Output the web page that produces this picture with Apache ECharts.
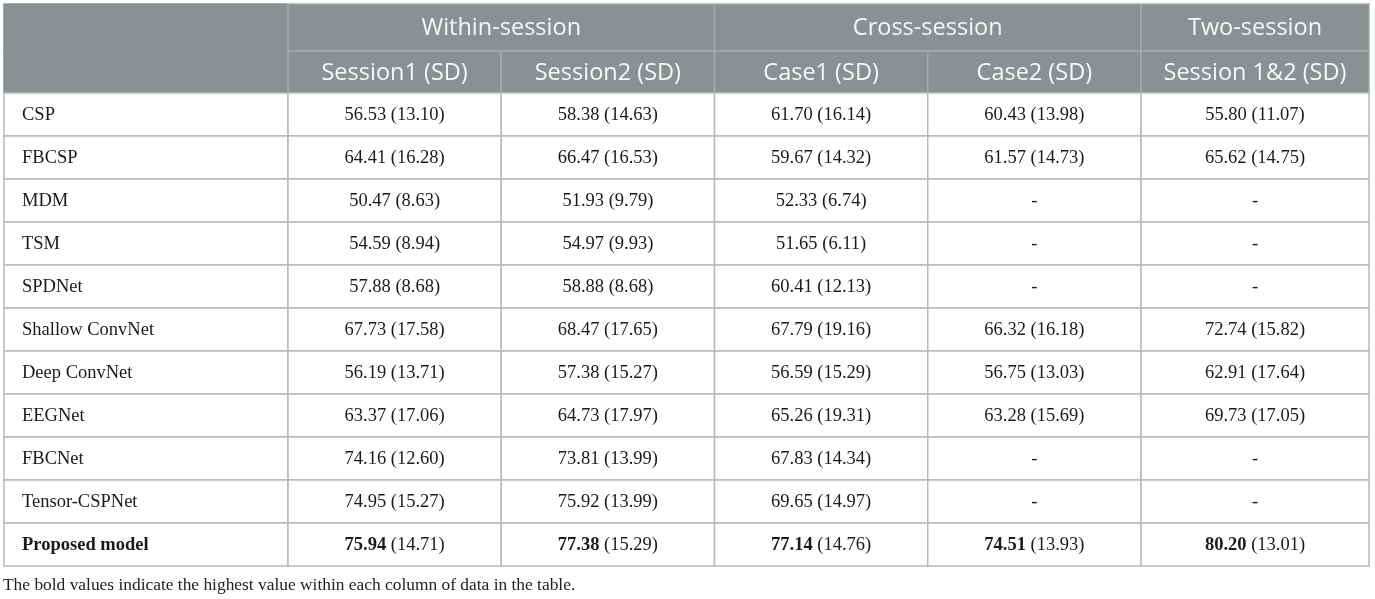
<!DOCTYPE html>
<html><head><meta charset="utf-8">
<script src="https://cdn.jsdelivr.net/npm/echarts@6/dist/echarts.min.js"></script>
<style>html,body{margin:0;padding:0;background:#fff}#c{width:1375px;height:599px}</style>
</head><body><div id="c"></div>
<script>
// ---- data ----
const groupHeaders = ['Within-session', 'Cross-session', 'Two-session'];
const columnHeaders = ['Session1 (SD)', 'Session2 (SD)', 'Case1 (SD)', 'Case2 (SD)', 'Session 1&2 (SD)'];
const methods = ['CSP', 'FBCSP', 'MDM', 'TSM', 'SPDNet', 'Shallow ConvNet', 'Deep ConvNet', 'EEGNet', 'FBCNet', 'Tensor-CSPNet', 'Proposed model'];
const session1Mean = [56.53, 64.41, 50.47, 54.59, 57.88, 67.73, 56.19, 63.37, 74.16, 74.95, 75.94];
const session1SD   = [13.10, 16.28, 8.63, 8.94, 8.68, 17.58, 13.71, 17.06, 12.60, 15.27, 14.71];
const session2Mean = [58.38, 66.47, 51.93, 54.97, 58.88, 68.47, 57.38, 64.73, 73.81, 75.92, 77.38];
const session2SD   = [14.63, 16.53, 9.79, 9.93, 8.68, 17.65, 15.27, 17.97, 13.99, 13.99, 15.29];
const case1Mean    = [61.70, 59.67, 52.33, 51.65, 60.41, 67.79, 56.59, 65.26, 67.83, 69.65, 77.14];
const case1SD      = [16.14, 14.32, 6.74, 6.11, 12.13, 19.16, 15.29, 19.31, 14.34, 14.97, 14.76];
const case2Mean    = [60.43, 61.57, null, null, null, 66.32, 56.75, 63.28, null, null, 74.51];
const case2SD      = [13.98, 14.73, null, null, null, 16.18, 13.03, 15.69, null, null, 13.93];
const twoSessionMean = [55.80, 65.62, null, null, null, 72.74, 62.91, 69.73, null, null, 80.20];
const twoSessionSD   = [11.07, 14.75, null, null, null, 15.82, 17.64, 17.05, null, null, 13.01];
const boldMethod = 'Proposed model';
const footnote = 'The bold values indicate the highest value within each column of data in the table.';

// ---- styles ----
const HEAD_BG = '#8b9092';
const HEAD_LINE = '#a7abac';
const BODY_LINE = '#b7babb';
const HEAD_FONT = 'Open Sans';
const BODY_FONT = 'Liberation Serif';
const TEXT = '#1a1a1a';

const means = [session1Mean, session2Mean, case1Mean, case2Mean, twoSessionMean];
const sds = [session1SD, session2SD, case1SD, case2SD, twoSessionSD];
const colMax = means.map(arr => Math.max(...arr.filter(v => v != null)));

function cellRect(api, c0, c1, r0, r1) {
  const a = api.coord([c0, r0]), b = api.coord([c1, r1]);
  const s = api.size([1, 1]);
  return { x: a[0] - s[0] / 2, y: a[1] - s[1] / 2, width: b[0] - a[0] + s[0], height: b[1] - a[1] + s[1] };
}

// header items: grids 0-2 are group-header row, grids 3-5 column-header row
const headA = [{ c0: 0, text: '' }];
const headB = [
  { c0: 0, c1: 1, text: groupHeaders[0] },
  { c0: 2, c1: 3, text: groupHeaders[1] }
];
const headC = [{ c0: 0, c1: 0, text: groupHeaders[2] }];
const subA = [{ c0: 0, c1: 0, text: '' }];
const subB = columnHeaders.slice(0, 4).map((t, i) => ({ c0: i, c1: i, text: t }));
const subC = [{ c0: 0, c1: 0, text: columnHeaders[4] }];

function headSeries(items, idx, noStroke) {
  return {
    type: 'custom', xAxisIndex: idx, yAxisIndex: idx, silent: true,
    encode: { x: [0, 1], y: 2 },
    data: items.map(it => [it.c0, it.c1 == null ? it.c0 : it.c1, 0]),
    renderItem: function (params, api) {
      const it = items[params.dataIndex];
      const r = cellRect(api, api.value(0), api.value(1), 0, 0);
      return {
        type: 'group', children: [
          { type: 'rect', shape: r, style: { fill: HEAD_BG, stroke: noStroke ? HEAD_BG : HEAD_LINE, lineWidth: 1.5 } },
          { type: 'text', style: { text: it.text, x: r.x + r.width / 2, y: r.y + r.height / 2 + 1, align: 'center', verticalAlign: 'middle', fontFamily: HEAD_FONT, fontSize: 23.5, fill: '#f7f7f7' } }
        ]
      };
    }
  };
}

function fmtCell(col, row) {
  const m = means[col][row], s = sds[col][row];
  if (m == null) return '-';
  const ms = m.toFixed(2), ss = '(' + s.toFixed(2) + ')';
  return m === colMax[col] ? '{b|' + ms + '} ' + ss : ms + ' ' + ss;
}

const FS = 18.5;
function bodySeries(colStart, nCols, idx) {
  const data = [];
  for (let c = 0; c < nCols; c++) for (let r = 0; r < methods.length; r++) data.push([c, r]);
  return {
    type: 'custom', xAxisIndex: idx, yAxisIndex: idx, silent: true,
    encode: { x: 0, y: 1 },
    data: data,
    renderItem: function (params, api) {
      const c = api.value(0), r = api.value(1);
      const rc = cellRect(api, c, c, r, r);
      return {
        type: 'group', children: [
          { type: 'rect', shape: rc, style: { fill: '#fff', stroke: BODY_LINE, lineWidth: 1.5 } },
          { type: 'text', style: { text: fmtCell(colStart + c, r), x: rc.x + rc.width / 2, y: rc.y + rc.height / 2 + 1, align: 'center', verticalAlign: 'middle', fontFamily: BODY_FONT, fontSize: FS, fill: TEXT,
            rich: { b: { fontFamily: BODY_FONT, fontSize: FS, fontWeight: 'bold', fill: TEXT } } } }
        ]
      };
    }
  };
}

const labelSeries = {
  type: 'custom', xAxisIndex: 6, yAxisIndex: 6, silent: true,
  encode: { x: 0, y: 1 },
  data: methods.map((m, i) => [0, i]),
  renderItem: function (params, api) {
    const r = api.value(1);
    const rc = cellRect(api, 0, 0, r, r);
    const name = methods[params.dataIndex];
    return {
      type: 'group', children: [
        { type: 'rect', shape: rc, style: { fill: '#fff', stroke: BODY_LINE, lineWidth: 1.5 } },
        { type: 'text', style: { text: name, x: rc.x + 18, y: rc.y + rc.height / 2 + 1, align: 'left', verticalAlign: 'middle', fontFamily: BODY_FONT, fontSize: FS, fontWeight: name === boldMethod ? 'bold' : 'normal', fill: TEXT } }
      ]
    };
  }
};

const gridDefs = [
  { left: 4, top: 4, width: 284, height: 47 },
  { left: 288, top: 4, width: 853, height: 47 },
  { left: 1141, top: 4, width: 228, height: 47 },
  { left: 4, top: 51, width: 284, height: 42 },
  { left: 288, top: 51, width: 853, height: 42 },
  { left: 1141, top: 51, width: 228, height: 42 },
  { left: 4, top: 93, width: 284, height: 473 },
  { left: 288, top: 93, width: 853, height: 473 },
  { left: 1141, top: 93, width: 228, height: 473 }
];
const zoneCats = [['label'], columnHeaders.slice(0, 4), columnHeaders.slice(4)];
const xCats = [0, 1, 2, 0, 1, 2, 0, 1, 2].map(z => zoneCats[z]);
const yCats = [['group'], ['group'], ['group'], ['column'], ['column'], ['column'], methods, methods, methods];

const option = {
  animation: false,
  title: { text: footnote, left: 3, top: 577, padding: 0, textStyle: { fontFamily: BODY_FONT, fontSize: 17.4, fontWeight: 'normal', color: '#222' } },
  grid: gridDefs.map(g => Object.assign({ containLabel: false }, g)),
  xAxis: xCats.map((cats, i) => ({ type: 'category', gridIndex: i, data: cats, show: false })),
  yAxis: yCats.map((cats, i) => ({ type: 'category', gridIndex: i, data: cats, inverse: true, show: false })),
  series: [
    headSeries(headA, 0, true), headSeries(headB, 1), headSeries(headC, 2),
    headSeries(subA, 3, true), headSeries(subB, 4), headSeries(subC, 5),
    labelSeries, bodySeries(0, 4, 7), bodySeries(4, 1, 8)
  ]
};
const chart = echarts.init(document.getElementById('c'), null, { renderer: 'canvas' });
chart.setOption(option);
</script>
</body></html>
